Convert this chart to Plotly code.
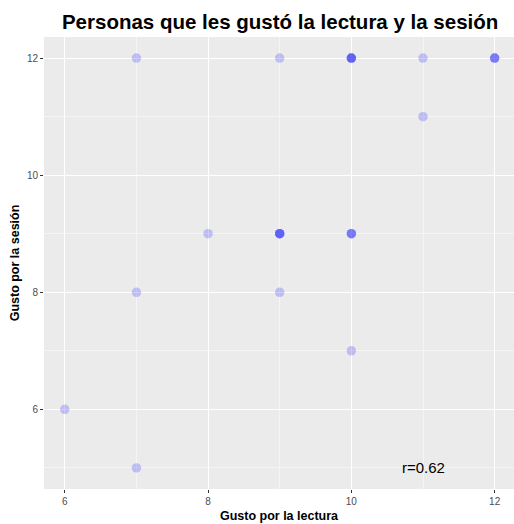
import plotly.graph_objects as go

# data (repeated points represent overlapping observations)
lectura = [7, 9, 10, 10, 10, 10, 11, 12, 12, 12, 11, 8, 9, 9, 9, 9, 10, 10, 10, 7, 9, 10, 6, 7]
sesion = [12, 12, 12, 12, 12, 12, 12, 12, 12, 12, 11, 9, 9, 9, 9, 9, 9, 9, 9, 8, 8, 7, 6, 5]
x_ticks = [6, 8, 10, 12]
y_ticks = [6, 8, 10, 12]
r_label = "r=0.62"

fig = go.Figure()
fig.add_trace(go.Scatter(
    x=lectura, y=sesion, mode="markers",
    marker=dict(color="blue", opacity=0.2, size=9.5, line=dict(width=0)),
    hoverinfo="x+y", showlegend=False,
))
fig.add_annotation(x=11, y=5, text=r_label, showarrow=False,
                   font=dict(family="Liberation Sans, Arial", size=15, color="black"))

axis_common = dict(
    showgrid=True, gridcolor="white", gridwidth=1.1,
    zeroline=False, showline=False,
    ticks="outside", ticklen=3, tickcolor="#333333", tickwidth=1,
    tickfont=dict(family="Liberation Sans, Arial", size=10, color="#4D4D4D"),
    minor=dict(dtick=1, showgrid=True, gridcolor="#F5F5F5", gridwidth=0.6, ticks=""),
)
fig.update_xaxes(range=[5.71, 12.27], tickvals=x_ticks, dtick=2, tick0=6,
                 title=dict(text="<b>Gusto por la lectura</b>", standoff=5,
                            font=dict(family="Liberation Sans, Arial", size=12.5, color="black")),
                 **axis_common)
fig.update_yaxes(range=[4.64, 12.36], tickvals=y_ticks, dtick=2, tick0=6,
                 title=dict(text="<b>Gusto por la sesión</b>", standoff=4,
                            font=dict(family="Liberation Sans, Arial", size=12.5, color="black")),
                 **axis_common)
fig.update_layout(
    width=514, height=524,
    margin=dict(l=44, r=0, t=37, b=35),
    paper_bgcolor="white", plot_bgcolor="#EBEBEB",
    title=dict(text="<b>Personas que les gustó la lectura y la sesión</b>",
               x=0.545, xanchor="center", y=0.958, yanchor="middle",
               font=dict(family="Liberation Sans, Arial", size=20.5, color="black")),
)
fig.write_html("out.html", config={"displayModeBar": False},
               post_script="document.body.style.margin='0';document.body.style.overflow='hidden';")
